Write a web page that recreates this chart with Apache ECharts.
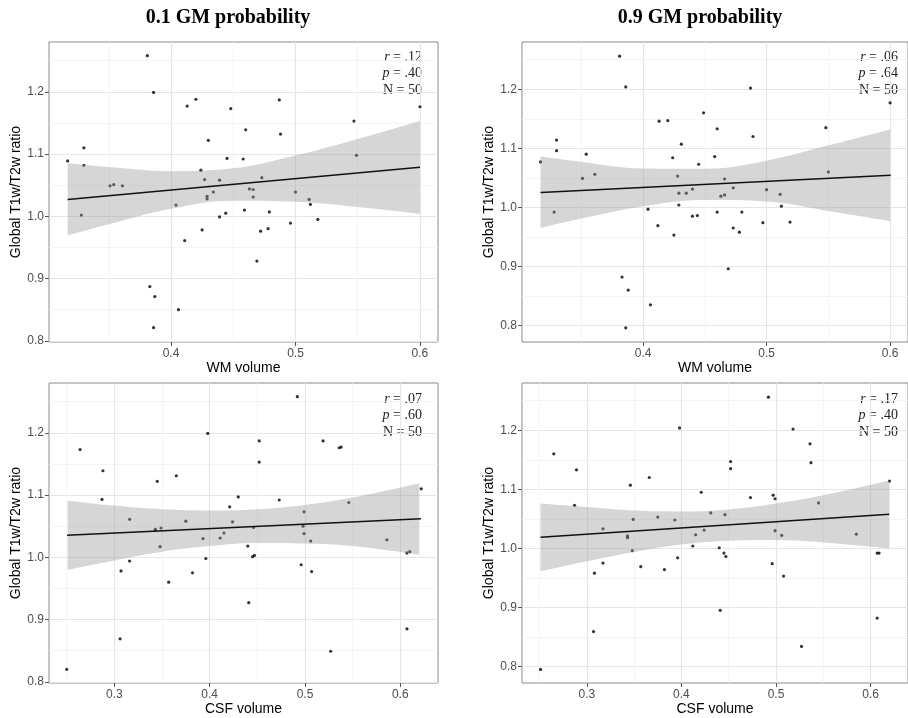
<!DOCTYPE html>
<html>
<head>
<meta charset="utf-8">
<title>Global T1w/T2w ratio vs tissue volume</title>
<script src="https://cdn.jsdelivr.net/npm/echarts@6/dist/echarts.min.js"></script>
<style>
  html, body { margin: 0; padding: 0; background: #fff; }
  #chart { width: 908px; height: 718px; }
</style>
</head>
<body>
<div id="chart"></div>
<script>
// points: [volume, global T1w/T2w ratio]
const wmLow = [[0.317,1.089],[0.330,1.110],[0.330,1.082],[0.328,1.002],[0.351,1.049],[0.354,1.051],[0.361,1.049],[0.381,1.258],[0.386,1.199],[0.383,0.887],[0.387,0.871],[0.386,0.821],[0.404,1.018],[0.406,0.850],[0.411,0.961],[0.413,1.177],[0.420,1.188],[0.424,1.074],[0.425,0.978],[0.427,1.059],[0.429,1.032],[0.429,1.028],[0.430,1.122],[0.434,1.039],[0.439,1.058],[0.439,0.999],[0.444,1.005],[0.445,1.093],[0.448,1.173],[0.458,1.092],[0.460,1.139],[0.459,1.010],[0.463,1.044],[0.466,1.043],[0.466,1.031],[0.469,0.928],[0.473,1.062],[0.472,0.976],[0.478,0.980],[0.479,1.007],[0.487,1.187],[0.488,1.132],[0.496,0.989],[0.500,1.039],[0.511,1.027],[0.512,1.019],[0.518,0.995],[0.547,1.153],[0.549,1.098],[0.600,1.176]];
const wmHigh = [[0.317,1.077],[0.330,1.114],[0.330,1.096],[0.328,0.992],[0.351,1.049],[0.354,1.090],[0.361,1.056],[0.381,1.256],[0.386,1.204],[0.383,0.882],[0.388,0.860],[0.386,0.796],[0.404,0.997],[0.406,0.835],[0.412,0.969],[0.413,1.146],[0.420,1.147],[0.424,1.084],[0.425,0.953],[0.428,1.053],[0.429,1.024],[0.429,1.004],[0.431,1.107],[0.435,1.024],[0.440,1.031],[0.440,0.985],[0.444,0.986],[0.445,1.073],[0.449,1.160],[0.458,1.086],[0.460,1.133],[0.460,0.992],[0.466,1.048],[0.466,1.021],[0.463,1.019],[0.469,0.896],[0.473,1.033],[0.473,0.965],[0.478,0.958],[0.480,0.992],[0.487,1.202],[0.489,1.120],[0.497,0.974],[0.500,1.030],[0.511,1.022],[0.512,1.002],[0.519,0.975],[0.548,1.135],[0.550,1.060],[0.600,1.177]];
const csfLow = [[0.250,0.820],[0.264,1.173],[0.288,1.139],[0.287,1.093],[0.316,1.061],[0.316,0.994],[0.307,0.978],[0.306,0.869],[0.343,1.043],[0.343,1.045],[0.345,1.122],[0.349,1.047],[0.348,1.017],[0.357,0.960],[0.365,1.131],[0.375,1.058],[0.382,0.975],[0.393,1.030],[0.396,0.998],[0.398,1.199],[0.411,1.031],[0.415,1.039],[0.421,1.081],[0.424,1.057],[0.430,1.097],[0.440,1.018],[0.441,0.927],[0.445,1.001],[0.447,1.003],[0.446,1.048],[0.452,1.187],[0.452,1.153],[0.473,1.092],[0.492,1.258],[0.498,1.050],[0.499,1.073],[0.499,1.038],[0.496,0.988],[0.506,1.026],[0.507,0.977],[0.519,1.187],[0.527,0.849],[0.536,1.176],[0.538,1.177],[0.546,1.088],[0.586,1.028],[0.607,1.007],[0.610,1.009],[0.607,0.885],[0.622,1.110]];
const csfHigh = [[0.251,0.795],[0.265,1.160],[0.289,1.133],[0.287,1.073],[0.317,1.033],[0.317,0.975],[0.308,0.958],[0.307,0.859],[0.343,1.021],[0.343,1.018],[0.346,1.107],[0.349,1.049],[0.348,0.996],[0.357,0.969],[0.366,1.120],[0.375,1.053],[0.382,0.964],[0.393,1.048],[0.396,0.984],[0.398,1.204],[0.412,1.004],[0.415,1.023],[0.421,1.095],[0.424,1.031],[0.431,1.060],[0.440,1.001],[0.441,0.895],[0.445,0.992],[0.447,0.986],[0.446,1.057],[0.452,1.147],[0.452,1.135],[0.473,1.086],[0.492,1.256],[0.497,1.090],[0.499,1.084],[0.499,1.030],[0.496,0.974],[0.506,1.022],[0.508,0.953],[0.518,1.202],[0.527,0.834],[0.536,1.177],[0.537,1.145],[0.545,1.077],[0.585,1.024],[0.607,0.992],[0.609,0.992],[0.607,0.882],[0.620,1.114]];

// linear fit end points
const fitWmLow = [[0.317,1.027],[0.600,1.0786]];
const fitWmHigh = [[0.317,1.0253],[0.6005,1.0545]];
const fitCsfLow = [[0.2504,1.0355],[0.6217,1.0617]];
const fitCsfHigh = [[0.251,1.0188],[0.6198,1.0577]];

// 95% confidence band, lower / upper edge
const bandWmX = [0.317,0.35,0.40,0.45,0.50,0.55,0.600];
const bandWmLowLo = [0.969,0.987,1.012,1.025,1.0235,1.015,1.004];
const bandWmLowHi = [1.085,1.079,1.0725,1.077,1.0975,1.124,1.153];
const bandWmHighLo = [0.965,0.981,1.002,1.0125,1.010,0.994,0.977];
const bandWmHighHi = [1.086,1.077,1.066,1.0655,1.079,1.105,1.132];
const bandCsfX = [0.251,0.30,0.35,0.40,0.45,0.50,0.55,0.620];
const bandCsfLowLo = [0.980,0.995,1.009,1.018,1.023,1.022,1.018,1.004];
const bandCsfLowHi = [1.091,1.083,1.077,1.075,1.077,1.084,1.096,1.119];
const bandCsfHighLo = [0.961,0.978,0.994,1.0065,1.013,1.014,1.010,1.000];
const bandCsfHighHi = [1.076,1.070,1.064,1.0625,1.066,1.076,1.090,1.115];

const xTicksWm = [0.4,0.5,0.6];
const xMinorWm = [0.35,0.45,0.55];
const xTicksCsf = [0.3,0.4,0.5,0.6];
const xMinorCsf = [0.25,0.35,0.45,0.55];
const yTicks = [0.8,0.9,1.0,1.1,1.2];
const yMinor = [0.85,0.95,1.05,1.15,1.25];

const statR = ['.12','.06','.07','.17'];
const statP = ['.40','.64','.60','.40'];
const statN = [50,50,50,50];

const SANS = '"Liberation Sans", Arial, sans-serif';
const SERIF = '"Liberation Serif", "Times New Roman", serif';

const panels = [
  { points: wmLow, fit: fitWmLow, bx: bandWmX, lo: bandWmLowLo, hi: bandWmLowHi,
    xName: 'WM volume', xTicks: xTicksWm, xMinor: xMinorWm,
    box: [49, 42, 389, 300], xr: [0.302, 0.6145], yr: [0.798, 1.280], statX: 422, statY: 57 },
  { points: wmHigh, fit: fitWmHigh, bx: bandWmX, lo: bandWmHighLo, hi: bandWmHighHi,
    xName: 'WM volume', xTicks: xTicksWm, xMinor: xMinorWm,
    box: [522, 42, 390, 300], xr: [0.302, 0.6145], yr: [0.772, 1.280], statX: 898, statY: 57 },
  { points: csfLow, fit: fitCsfLow, bx: bandCsfX, lo: bandCsfLowLo, hi: bandCsfLowHi,
    xName: 'CSF volume', xTicks: xTicksCsf, xMinor: xMinorCsf,
    box: [49, 383, 389, 300], xr: [0.2314, 0.6396], yr: [0.798, 1.280], statX: 422, statY: 399 },
  { points: csfHigh, fit: fitCsfHigh, bx: bandCsfX, lo: bandCsfHighLo, hi: bandCsfHighHi,
    xName: 'CSF volume', xTicks: xTicksCsf, xMinor: xMinorCsf,
    box: [522, 383, 390, 300], xr: [0.2314, 0.6396], yr: [0.772, 1.280], statX: 898, statY: 399 }
];

const option = {
  animation: false,
  backgroundColor: '#fff',
  grid: [], xAxis: [], yAxis: [], series: [], graphic: []
};

function mainAxis(gridIndex, range, ticks, name, gap, isY) {
  return {
    type: 'value', gridIndex: gridIndex, min: range[0], max: range[1],
    name: name, nameLocation: 'middle', nameGap: gap,
    nameTextStyle: { color: '#000', fontSize: 14, fontFamily: SANS },
    axisLine: { show: false },
    axisTick: { show: true, length: 4, customValues: ticks, lineStyle: { color: '#555', width: 1 } },
    axisLabel: { customValues: ticks, color: '#4d4d4d', fontSize: 12, fontFamily: SANS,
      margin: isY ? 5 : 6, formatter: v => Number(v).toFixed(1) },
    splitLine: { show: true, lineStyle: { color: '#e6e6e6', width: 1.2 } }
  };
}

function minorAxis(gridIndex, range, ticks) {
  return {
    type: 'value', gridIndex: gridIndex, min: range[0], max: range[1],
    axisLine: { show: false },
    axisTick: { show: false, customValues: ticks },
    axisLabel: { show: false },
    splitLine: { show: true, lineStyle: { color: '#f2f2f2', width: 0.8 } }
  };
}

panels.forEach((p, i) => {
  option.grid.push({
    left: p.box[0], top: p.box[1], width: p.box[2], height: p.box[3],
    show: true, borderColor: '#8c8c8c', borderWidth: 1, backgroundColor: '#fff'
  });
  option.xAxis.push(mainAxis(i, p.xr, p.xTicks, p.xName, 17, false));
  option.xAxis.push(minorAxis(i, p.xr, p.xMinor));
  option.yAxis.push(mainAxis(i, p.yr, yTicks, 'Global T1w/T2w ratio', 26, true));
  option.yAxis.push(minorAxis(i, p.yr, yMinor));

  const axes = { xAxisIndex: 2 * i, yAxisIndex: 2 * i };
  // band rows are [ratio, volume] so the stack runs on the ratio (y) dimension
  option.series.push(Object.assign({
    type: 'line', stack: 'band' + i, silent: true, symbol: 'none', smooth: 0.4,
    encode: { x: 1, y: 0 },
    lineStyle: { opacity: 0 },
    data: p.bx.map((x, k) => [p.lo[k], x])
  }, axes));
  option.series.push(Object.assign({
    type: 'line', stack: 'band' + i, silent: true, symbol: 'none', smooth: 0.4,
    encode: { x: 1, y: 0 },
    lineStyle: { opacity: 0 },
    areaStyle: { color: '#999999', opacity: 0.4 },
    data: p.bx.map((x, k) => [p.hi[k] - p.lo[k], x])
  }, axes));
  option.series.push(Object.assign({
    type: 'line', silent: true, symbol: 'none',
    lineStyle: { color: '#111', width: 1.5 },
    data: p.fit
  }, axes));
  option.series.push(Object.assign({
    type: 'scatter', symbolSize: 3.2, silent: true,
    itemStyle: { color: '#000' },
    data: p.points
  }, axes));

  const lines = ['{i|r} = ' + statR[i], '{i|p} = ' + statP[i], 'N = ' + statN[i]];
  lines.forEach((t, k) => {
    option.graphic.push({
      type: 'text', silent: true,
      style: {
        text: t, x: p.statX, y: p.statY + k * 16.7,
        align: 'right', verticalAlign: 'middle', textAlign: 'right', textVerticalAlign: 'middle',
        fontSize: 14, fontFamily: SERIF, fill: '#222',
        rich: { i: { fontStyle: 'italic', fontSize: 14, fontFamily: SERIF, fill: '#222' } }
      }
    });
  });
});

[['0.1 GM probability', 228], ['0.9 GM probability', 700]].forEach(t => {
  option.graphic.push({
    type: 'text', silent: true,
    style: {
      text: t[0], x: t[1], y: 18,
      align: 'center', verticalAlign: 'middle', textAlign: 'center', textVerticalAlign: 'middle',
      fontSize: 20, fontWeight: 'bold', fontFamily: SERIF, fill: '#000'
    }
  });
});

const chart = echarts.init(document.getElementById('chart'));
chart.setOption(option);
</script>
</body>
</html>
